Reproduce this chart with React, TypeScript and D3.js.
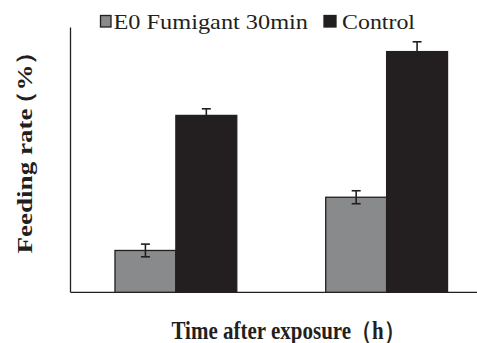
import React from "react";
import * as d3 from "d3";

const categories = ["24", "48"];
const seriesNames = ["E0 Fumigant 30min", "Control"];
const fumigantValues = [15.8, 35.9];
const fumigantErrors = [2.4, 2.45];
const controlValues = [66.8, 90.9];
const controlErrors = [2.5, 3.7];

const W = 477;
const H = 343;
const colors = ["#898a8c", "#231f20"];
const ink = "#231f20";
const serif = "Liberation Serif";

export default function App() {
  const x = d3
    .scaleBand<string>()
    .domain(categories)
    .range([70.5, 492])
    .paddingInner(0.422)
    .paddingOuter(0.211);
  const inner = d3
    .scaleBand<number>()
    .domain([0, 1])
    .range([0, x.bandwidth()]);
  const y = d3.scaleLinear().domain([0, 100]).range([292.3, 27.5]);

  const series = [
    { vals: fumigantValues, errs: fumigantErrors },
    { vals: controlValues, errs: controlErrors },
  ];

  return (
    <svg
      width={W}
      height={H}
      style={{ position: "absolute", left: 0, top: 0, background: "#fff" }}
    >
      <line x1={x.range()[0]} x2={x.range()[0]} y1={y(100)} y2={y(0)} stroke={ink} strokeWidth={1.3} />
      <line x1={x.range()[0]} x2={x.range()[1]} y1={y(0)} y2={y(0)} stroke={ink} strokeWidth={1.3} />

      {series.map((s, si) =>
        categories.map((c, ci) => {
          const bx = (x(c) as number) + (inner(si) as number);
          const bw = inner.bandwidth();
          const cx = bx + bw / 2;
          const v = s.vals[ci];
          const e = s.errs[ci];
          return (
            <g key={`${si}-${ci}`}>
              <rect
                x={bx}
                y={y(v)}
                width={bw}
                height={y(0) - y(v)}
                fill={colors[si]}
                stroke={ink}
                strokeWidth={1.3}
              />
              <line x1={cx} x2={cx} y1={y(v + e)} y2={y(v - e)} stroke={ink} strokeWidth={1.6} />
              <line x1={cx - 4.5} x2={cx + 4.5} y1={y(v + e)} y2={y(v + e)} stroke={ink} strokeWidth={1.6} />
              <line x1={cx - 4.5} x2={cx + 4.5} y1={y(v - e)} y2={y(v - e)} stroke={ink} strokeWidth={1.6} />
            </g>
          );
        })
      )}

      <rect x={100.5} y={15.5} width={10.5} height={11.5} fill={colors[0]} stroke={ink} strokeWidth={1.3} />
      <text x={113.5} y={28.8} fontSize={22} fontFamily={serif} fill={ink} textLength={194.5} lengthAdjust="spacingAndGlyphs">
        {seriesNames[0]}
      </text>
      <rect x={324} y={15.5} width={12} height={11.5} fill={colors[1]} stroke={ink} strokeWidth={1.3} />
      <text x={342} y={28.8} fontSize={22} fontFamily={serif} fill={ink} textLength={73} lengthAdjust="spacingAndGlyphs">
        {seriesNames[1]}
      </text>

      <text
        transform="translate(171.5,338.5) scale(0.84,1)"
        fontSize={25}
        fontWeight="bold"
        fontFamily={serif}
        fill={ink}
      >
        Time after exposure（h）
      </text>
      <text
        transform="translate(32,253.5) scale(0.84,1) rotate(-90)"
        fontSize={26}
        fontWeight="bold"
        fontFamily={serif}
        fill={ink}
      >
        <tspan textLength={145} lengthAdjust="spacingAndGlyphs">Feeding rate</tspan>
        <tspan dx={-8}>（%）</tspan>
      </text>
    </svg>
  );
}
